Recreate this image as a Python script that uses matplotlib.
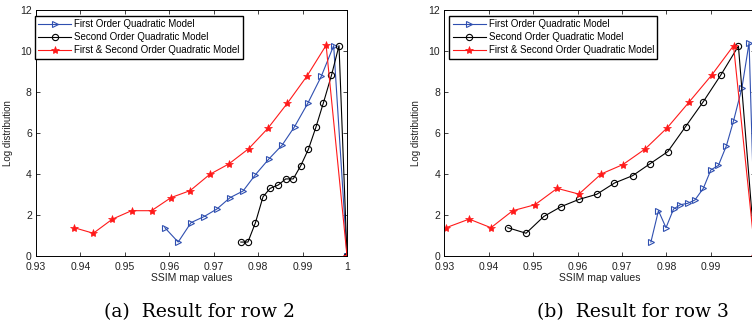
import matplotlib
matplotlib.use("Agg")
import matplotlib.pyplot as plt

plt.rcParams['font.family'] = ['Liberation Sans', 'DejaVu Sans']

# row 2
r2_first_x = [0.9590, 0.9620, 0.9649, 0.9678, 0.9707, 0.9737, 0.9766, 0.9794,
              0.9824, 0.9854, 0.9882, 0.9912, 0.9942, 0.9970, 1.0]
r2_first_y = [1.38, 0.68, 1.63, 1.92, 2.29, 2.85, 3.17, 3.97,
              4.73, 5.41, 6.31, 7.46, 8.76, 10.26, 0.0]
r2_second_x = [0.9761, 0.9777, 0.9794, 0.9811, 0.9827, 0.9845, 0.9862, 0.9879,
               0.9896, 0.9913, 0.9930, 0.9947, 0.9965, 0.9982, 1.0]
r2_second_y = [0.68, 0.68, 1.63, 2.89, 3.30, 3.46, 3.76, 3.76,
               4.41, 5.20, 6.28, 7.48, 8.81, 10.26, 0.0]
r2_both_x = [0.9386, 0.9429, 0.9472, 0.9515, 0.9560, 0.9604, 0.9647, 0.9691,
             0.9734, 0.9779, 0.9822, 0.9866, 0.9910, 0.9953, 1.0]
r2_both_y = [1.38, 1.11, 1.80, 2.21, 2.21, 2.85, 3.19, 3.98,
             4.49, 5.24, 6.23, 7.46, 8.78, 10.28, 0.0]

# row 3
r3_first_x = [0.9765, 0.9782, 0.9799, 0.9816, 0.9831, 0.9848, 0.9864, 0.9883,
              0.9900, 0.9917, 0.9935, 0.9951, 0.9970, 0.9986, 1.0]
r3_first_y = [0.68, 2.21, 1.38, 2.29, 2.50, 2.57, 2.73, 3.30,
              4.20, 4.42, 5.38, 6.59, 8.21, 10.41, 0.0]
r3_second_x = [0.9443, 0.9484, 0.9524, 0.9563, 0.9603, 0.9643, 0.9683, 0.9724,
               0.9763, 0.9803, 0.9843, 0.9883, 0.9923, 0.9962, 1.0]
r3_second_y = [1.38, 1.11, 1.93, 2.41, 2.76, 3.01, 3.56, 3.92,
               4.50, 5.09, 6.31, 7.53, 8.85, 10.24, 0.0]
r3_both_x = [0.9304, 0.9356, 0.9405, 0.9454, 0.9504, 0.9554, 0.9603, 0.9653,
             0.9702, 0.9752, 0.9802, 0.9851, 0.9902, 0.9951, 1.0]
r3_both_y = [1.38, 1.80, 1.38, 2.21, 2.50, 3.30, 3.02, 4.00,
             4.46, 5.22, 6.26, 7.51, 8.83, 10.26, 0.0]

labels = ["First Order Quadratic Model", "Second Order Quadratic Model",
          "First & Second Order Quadratic Model"]
xticks = [0.93, 0.94, 0.95, 0.96, 0.97, 0.98, 0.99, 1.0]
xticklabels = ["0.93", "0.94", "0.95", "0.96", "0.97", "0.98", "0.99", "1"]
yticks = [0, 2, 4, 6, 8, 10, 12]
captions = ["(a)  Result for row 2", "(b)  Result for row 3"]

W, H = 752, 326
fig = plt.figure(figsize=(W / 100, H / 100), dpi=100)

panels = [
    (36.0, -1, (r2_first_x, r2_first_y), (r2_second_x, r2_second_y), (r2_both_x, r2_both_y)),
    (444.3, 5, (r3_first_x, r3_first_y), (r3_second_x, r3_second_y), (r3_both_x, r3_both_y)),
]
cap_x = [199, 633]

for i, (left, leg_dx, first, second, both) in enumerate(panels):
    ax = fig.add_axes([left / W, 70 / H, 311 / W, 246 / H])
    ax.plot(*first, color='#2f4fb0', lw=0.8, marker='>', ms=5,
            mfc='none', mew=0.8, label=labels[0])
    ax.plot(*second, color='black', lw=0.8, marker='o', ms=4.5,
            mfc='none', mew=0.8, label=labels[1])
    ax.plot(*both, color='#ff1a1a', lw=0.8, marker='*', ms=6,
            mfc='#ff1a1a', mew=0.5, label=labels[2])
    ax.set_xlim(0.93, 1.0)
    ax.set_ylim(0, 12)
    ax.set_xticks(xticks)
    # the right panel is cut at the page edge, so its "1" label is not seen
    ax.set_xticklabels(xticklabels if i == 0 else xticklabels[:-1] + [""])
    ax.set_yticks(yticks)
    ax.tick_params(direction='in', top=True, right=True, labelsize=7.5,
                   length=3, width=0.6, colors='#222222')
    ax.tick_params(axis='x', pad=4)
    ax.tick_params(axis='y', pad=3)
    for s in ax.spines.values():
        s.set_linewidth(0.7)
    ax.set_xlabel("SSIM map values", fontsize=7.5, labelpad=1, color='#222222')
    ax.set_ylabel("Log distribution", fontsize=7, labelpad=5, color='#222222')
    leg = ax.legend(loc='upper left',
                    bbox_to_anchor=(leg_dx / 311, 1 - 6 / 246),
                    fontsize=7, handlelength=3.4, handletextpad=0.3,
                    labelspacing=0.3, borderpad=0.35, borderaxespad=0,
                    fancybox=False, framealpha=1, edgecolor='black')
    leg.get_frame().set_linewidth(1.0)
    fig.text(cap_x[i] / W, 1 - 312 / H, captions[i], ha='center', va='center',
             fontsize=13.5, family=['DejaVu Serif'])

fig.savefig("out.png", dpi=100)
